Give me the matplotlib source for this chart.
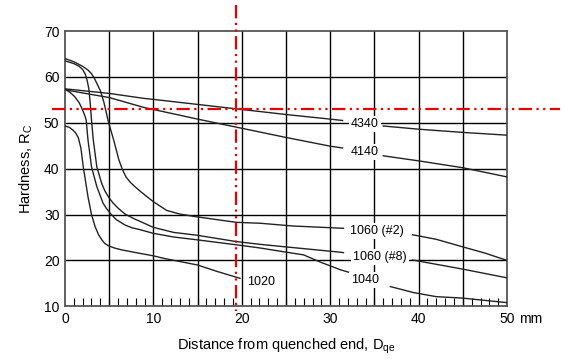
import numpy as np
import matplotlib.pyplot as plt

plt.rcParams['font.family'] = ['Liberation Sans', 'DejaVu Sans']
plt.rcParams['mathtext.fontset'] = 'custom'
plt.rcParams['mathtext.rm'] = 'Liberation Sans'
plt.rcParams['mathtext.it'] = 'Liberation Sans:italic'

nan = np.nan

# Jominy curves: distance (mm) / hardness (HRC); nan = gap for the label
x_4340 = [0, 2, 5, 9, 10, 15, 20, 25, 30, 31.4, nan, 36, 40, 45, 50]
y_4340 = [57.4, 57.0, 56.4, 55.3, 55.1, 54.0, 52.9, 51.8, 50.8, 50.5, nan, 49.3, 48.6, 47.9, 47.3]

x_4140 = [0, 2, 5, 9, 10, 15, 20, 25, 30, 31.4, nan, 36, 40, 45, 50]
y_4140 = [57.2, 56.5, 55.5, 53.3, 52.9, 50.8, 48.8, 46.8, 44.9, 44.5, nan, 42.8, 41.7, 40.2, 38.2]

x_1060_2 = [0, 1, 2, 2.6, 3.0, 3.3, 3.6, 4.0, 4.4, 4.9, 5.5, 6.1, 6.5, 6.9, 7.4, 7.9, 8.5, 9.2, 10.0,
            11.5, 13.0, 14.9, 19.4, 22.1, 25.8, 31.5, nan, 39.3, 42, 44.9, 47.5, 50]
y_1060_2 = [64.0, 63.3, 62.3, 61.5, 60.7, 59.8, 58.6, 57.0, 54.5, 50.3, 46.3, 41.9, 39.8, 38.2, 37.0, 36.1,
            35.1, 34.0, 32.8, 30.9, 30.1, 29.5, 28.3, 28.1, 27.5, 27.0, nan, 25.6, 24.6, 23.0, 21.6, 20.0]

x_1060_8 = [0, 1.0, 1.6, 2.0, 2.3, 2.5, 2.7, 2.85, 3.0, 3.2, 3.6, 4.15, 4.5, 4.9, 5.4, 6.0, 6.8,
            7.9, 8.5, 10.0, 12.3, 14.9, 19.4, 22.1, 24.7, 31.1, 31.5, nan, 39.3, 45, 50]
y_1060_8 = [63.5, 62.9, 62.3, 61.6, 60.6, 59.3, 57.4, 54.4, 50.6, 46.3, 40.4, 36.8, 35.2, 33.9, 32.6, 31.4,
            30.1, 29.0, 28.5, 27.2, 26.1, 25.5, 24.1, 23.5, 23.0, 21.8, 21.7, nan, 20.1, 18.1, 16.2]

x_1040 = [0, 0.6, 1.1, 1.6, 1.9, 2.2, 2.4, 2.6, 3.0, 3.6, 4.3, 4.7, 5.1, 5.8, 6.8, 7.6, 8.5, 10.0,
          12.3, 14.9, 19.4, 22.1, 24.7, 27.0, 28.8, 31.1, 32.3, nan, 36.8, 39.4, 42.0, 44.9, 50]
y_1040 = [57.3, 56.6, 55.7, 54.4, 53.2, 51.8, 50.6, 46.3, 40.4, 36.1, 32.5, 31.3, 30.3, 28.9, 27.7, 27.1,
          26.7, 25.9, 25.1, 24.5, 23.4, 22.7, 21.9, 21.2, 19.7, 18.0, 17.3, nan, 14.3, 13.0, 12.1, 11.8, 10.8]

x_1020 = [0, 0.5, 0.9, 1.2, 1.5, 1.8, 2.07, 2.6, 3.0, 3.4, 3.8, 4.2, 4.5, 4.9, 5.6, 6.4, 8.3, 10.0,
          11.3, 15.0, 17.2, 19.8]
y_1020 = [49.3, 49.0, 48.4, 47.8, 46.8, 44.5, 40.4, 33.9, 30.0, 27.4, 25.6, 24.4, 23.7, 23.2, 22.7, 22.3,
          21.6, 21.0, 20.4, 19.0, 17.6, 16.1]

curves = [(x_4340, y_4340), (x_4140, y_4140), (x_1060_2, y_1060_2),
          (x_1060_8, y_1060_8), (x_1040, y_1040), (x_1020, y_1020)]

labels = ["4340", "4140", "1060 (#2)", "1060 (#8)", "1040", "1020"]
label_x = [33.9, 33.9, 35.3, 35.6, 33.9, 22.2]
label_y = [49.7, 43.6, 26.4, 20.8, 15.8, 15.2]

# red reference cross
dist_mark = 19.35
hard_mark = 52.9

fig = plt.figure(figsize=(5.66, 3.59), dpi=100)
ax = fig.add_axes([0.1148, 0.1468, 0.7810, 0.7668])

ax.set_xlim(0, 50)
ax.set_ylim(10, 70)

for xv in range(5, 50, 5):
    ax.axvline(xv, color='black', lw=1.0, zorder=1)
for yv in range(20, 70, 10):
    ax.axhline(yv, color='black', lw=1.0, zorder=1)

for xs, ys in curves:
    ax.plot(xs, ys, color='#222222', lw=1.0, zorder=3, solid_joinstyle='round')

for txt, lx, ly in zip(labels, label_x, label_y):
    ax.text(lx, ly, txt, fontsize=9, ha='center', va='center', zorder=4,
            bbox=dict(facecolor='white', edgecolor='none', pad=1.5))

ax.plot([dist_mark, dist_mark], [75.7, 9.0], color='#e60000', lw=1.6,
        dashes=(6, 2, 1, 2, 1, 2), clip_on=False, zorder=6)
ax.plot([-1.5, 56], [hard_mark, hard_mark], color='#e60000', lw=1.6,
        dashes=(6, 2, 1, 2, 1, 2), clip_on=False, zorder=6)

ax.set_xticks(range(0, 51, 10))
ax.set_yticks(range(10, 71, 10))
ax.set_xticks(range(0, 51, 1), minor=True)
ax.tick_params(axis='both', which='major', length=0, labelsize=10, pad=4)
ax.tick_params(axis='x', which='minor', direction='in', length=5.5, width=0.8, color='black')
ax.tick_params(axis='y', which='minor', length=0)
ax.annotate("mm", xy=(50, 10), xytext=(9, -4), textcoords='offset points',
            ha='left', va='top', fontsize=10, annotation_clip=False)

for sp in ax.spines.values():
    sp.set_color('#555555')
    sp.set_linewidth(1.3)

ax.set_xlabel(r"Distance from quenched end, D$_{\mathrm{qe}}$", fontsize=10.5, labelpad=8)
ax.set_ylabel(r"Hardness, R$_{\mathrm{C}}$", fontsize=10.5, labelpad=6)

fig.savefig("out.png", dpi=100)
